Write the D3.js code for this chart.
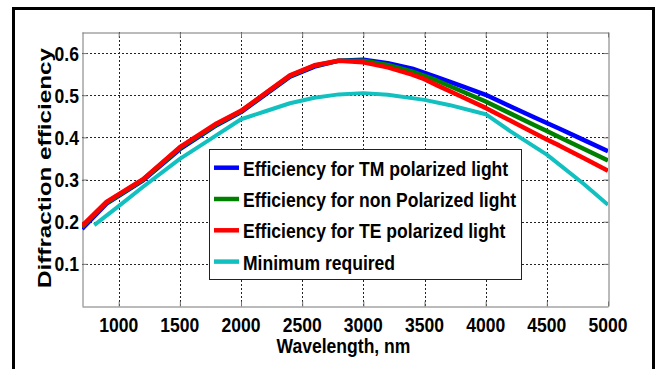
<!DOCTYPE html>
<html>
<head>
<meta charset="utf-8">
<script src="https://cdn.jsdelivr.net/npm/d3@7/dist/d3.min.js"></script>
<style>
  html, body { margin: 0; padding: 0; background: #fff; }
  svg { display: block; }
  text { font-family: "Liberation Sans", Arial, sans-serif; font-weight: bold; fill: #000; }
</style>
</head>
<body>
<svg id="chart" width="659" height="369"></svg>
<script>
// Wavelength samples (nm) and diffraction efficiency for each polarization
const wavelengths = [700, 900, 1200, 1500, 1800, 2000, 2200, 2400, 2600, 2800, 3000, 3200, 3400, 3500, 3600, 3800, 4000, 4200, 4400, 4500, 4600, 4800, 5000];
const effTM  = [0.183, 0.243, 0.298, 0.372, 0.429, 0.460, 0.502, 0.544, 0.568, 0.582, 0.584, 0.576, 0.563, 0.553, 0.543, 0.522, 0.501, 0.474, 0.447, 0.434, 0.421, 0.394, 0.367];
const effNon = [0.187, 0.245, 0.300, 0.375, 0.431, 0.462, 0.504, 0.546, 0.570, 0.582, 0.582, 0.572, 0.556, 0.546, 0.535, 0.510, 0.485, 0.457, 0.429, 0.415, 0.401, 0.373, 0.345];
const effTE  = [0.190, 0.247, 0.301, 0.377, 0.433, 0.463, 0.505, 0.547, 0.571, 0.582, 0.578, 0.566, 0.549, 0.538, 0.524, 0.497, 0.470, 0.440, 0.410, 0.395, 0.381, 0.351, 0.321];

// Minimum required efficiency curve
const minWavelengths = [800, 1000, 1200, 1500, 1750, 2000, 2200, 2400, 2600, 2800, 3000, 3200, 3500, 3700, 4000, 4200, 4500, 4800, 5000];
const minRequired    = [0.192, 0.237, 0.283, 0.349, 0.396, 0.443, 0.462, 0.481, 0.494, 0.502, 0.505, 0.501, 0.489, 0.477, 0.455, 0.415, 0.359, 0.290, 0.240];

const xTicks = [1000, 1500, 2000, 2500, 3000, 3500, 4000, 4500, 5000];
const yTicks = [0.1, 0.2, 0.3, 0.4, 0.5, 0.6];

const seriesNames = [
  "Efficiency for TM polarized light",
  "Efficiency for non Polarized light",
  "Efficiency for TE polarized light",
  "Minimum required"
];
const seriesColors = ["#0000ff", "#008000", "#ff0000", "#12c0c0"];

const svg = d3.select("#chart");
const plot = { left: 82, top: 32, right: 608, bottom: 306 };
const fontSize = 19.5;
const squeeze = 0.9; // horizontal condensing of the bold labels

// Outer figure frame
svg.append("rect")
  .attr("x", 13.5).attr("y", 8.5)
  .attr("width", 640).attr("height", 400)
  .attr("fill", "none").attr("stroke", "#000").attr("stroke-width", 3);

const x = d3.scaleLinear().domain([700, 5000]).range([plot.left, plot.right]);
const y = d3.scaleLinear().domain([0, 0.65]).range([plot.bottom, plot.top]);

// Dotted grid
const grid = svg.append("g").attr("stroke", "#222").attr("stroke-width", 1).attr("stroke-dasharray", "2,2");
grid.selectAll(".vx").data(xTicks.filter(t => t < 5000)).join("line")
  .attr("x1", d => Math.round(x(d)) + 0.5).attr("x2", d => Math.round(x(d)) + 0.5)
  .attr("y1", plot.top).attr("y2", plot.bottom);
grid.selectAll(".hy").data(yTicks).join("line")
  .attr("y1", d => Math.round(y(d)) + 0.5).attr("y2", d => Math.round(y(d)) + 0.5)
  .attr("x1", plot.left).attr("x2", plot.right);

// Axes box with inward ticks
const axisColor = "#777";
const xAxisB = d3.axisBottom(x).tickValues(xTicks).tickSizeInner(-5).tickSizeOuter(0).tickFormat("");
const xAxisT = d3.axisTop(x).tickValues(xTicks).tickSizeInner(-5).tickSizeOuter(0).tickFormat("");
const yAxisL = d3.axisLeft(y).tickValues(yTicks).tickSizeInner(-5).tickSizeOuter(0).tickFormat("");
const yAxisR = d3.axisRight(y).tickValues(yTicks).tickSizeInner(-5).tickSizeOuter(0).tickFormat("");
[[xAxisB, `translate(0,${plot.bottom + 0.5})`], [xAxisT, `translate(0,${plot.top + 0.5})`],
 [yAxisL, `translate(${plot.left + 0.5},0)`], [yAxisR, `translate(${plot.right + 0.5},0)`]]
  .forEach(([ax, tr]) => {
    const g = svg.append("g").attr("transform", tr).call(ax);
    g.selectAll("path,line").attr("stroke", axisColor);
  });

// Tick labels
svg.append("g").selectAll("text").data(xTicks).join("text")
  .attr("transform", d => `translate(${x(d)},332) scale(${squeeze},1)`)
  .attr("text-anchor", "middle").attr("font-size", fontSize)
  .text(d => d);
svg.append("g").selectAll("text").data(yTicks).join("text")
  .attr("transform", d => `translate(79,${y(d) + 7.5}) scale(${squeeze},1)`)
  .attr("text-anchor", "end").attr("font-size", fontSize)
  .text(d => d.toFixed(1));

// Axis titles
svg.append("text")
  .attr("transform", `translate(343.5,352.5) scale(${squeeze},1)`)
  .attr("text-anchor", "middle").attr("font-size", fontSize)
  .text("Wavelength, nm");
svg.append("text")
  .attr("transform", "translate(50.5,168) rotate(-90)")
  .attr("text-anchor", "middle").attr("font-size", 18.5)
  .attr("textLength", 240).attr("lengthAdjust", "spacingAndGlyphs")
  .text("Diffraction efficiency");

// Curves
svg.append("clipPath").attr("id", "plotclip").append("rect")
  .attr("x", plot.left).attr("y", plot.top)
  .attr("width", plot.right - plot.left).attr("height", plot.bottom - plot.top);
const line = d3.line().x(d => x(d[0])).y(d => y(d[1]));
const series = [
  wavelengths.map((w, i) => [w, effTM[i]]),
  wavelengths.map((w, i) => [w, effNon[i]]),
  wavelengths.map((w, i) => [w, effTE[i]]),
  minWavelengths.map((w, i) => [w, minRequired[i]])
];
const curves = svg.append("g").attr("clip-path", "url(#plotclip)");
series.forEach((s, i) => {
  curves.append("path").datum(s)
    .attr("d", line)
    .attr("fill", "none")
    .attr("stroke", seriesColors[i])
    .attr("stroke-width", i === 3 ? 4 : 4.5)
    .attr("stroke-linejoin", "round");
});

// Legend
const legend = svg.append("g");
legend.append("rect")
  .attr("x", 209.5).attr("y", 149.5).attr("width", 312).attr("height", 130)
  .attr("fill", "#fff").attr("stroke", "#222").attr("stroke-width", 1);
seriesNames.forEach((name, i) => {
  const ly = 167.7 + i * 31.3;
  legend.append("line")
    .attr("x1", 214).attr("x2", 239).attr("y1", ly).attr("y2", ly)
    .attr("stroke", seriesColors[i]).attr("stroke-width", 4.5);
  legend.append("text")
    .attr("transform", `translate(243,${ly + 8}) scale(${squeeze},1)`)
    .attr("font-size", fontSize)
    .text(name);
});
</script>
</body>
</html>
